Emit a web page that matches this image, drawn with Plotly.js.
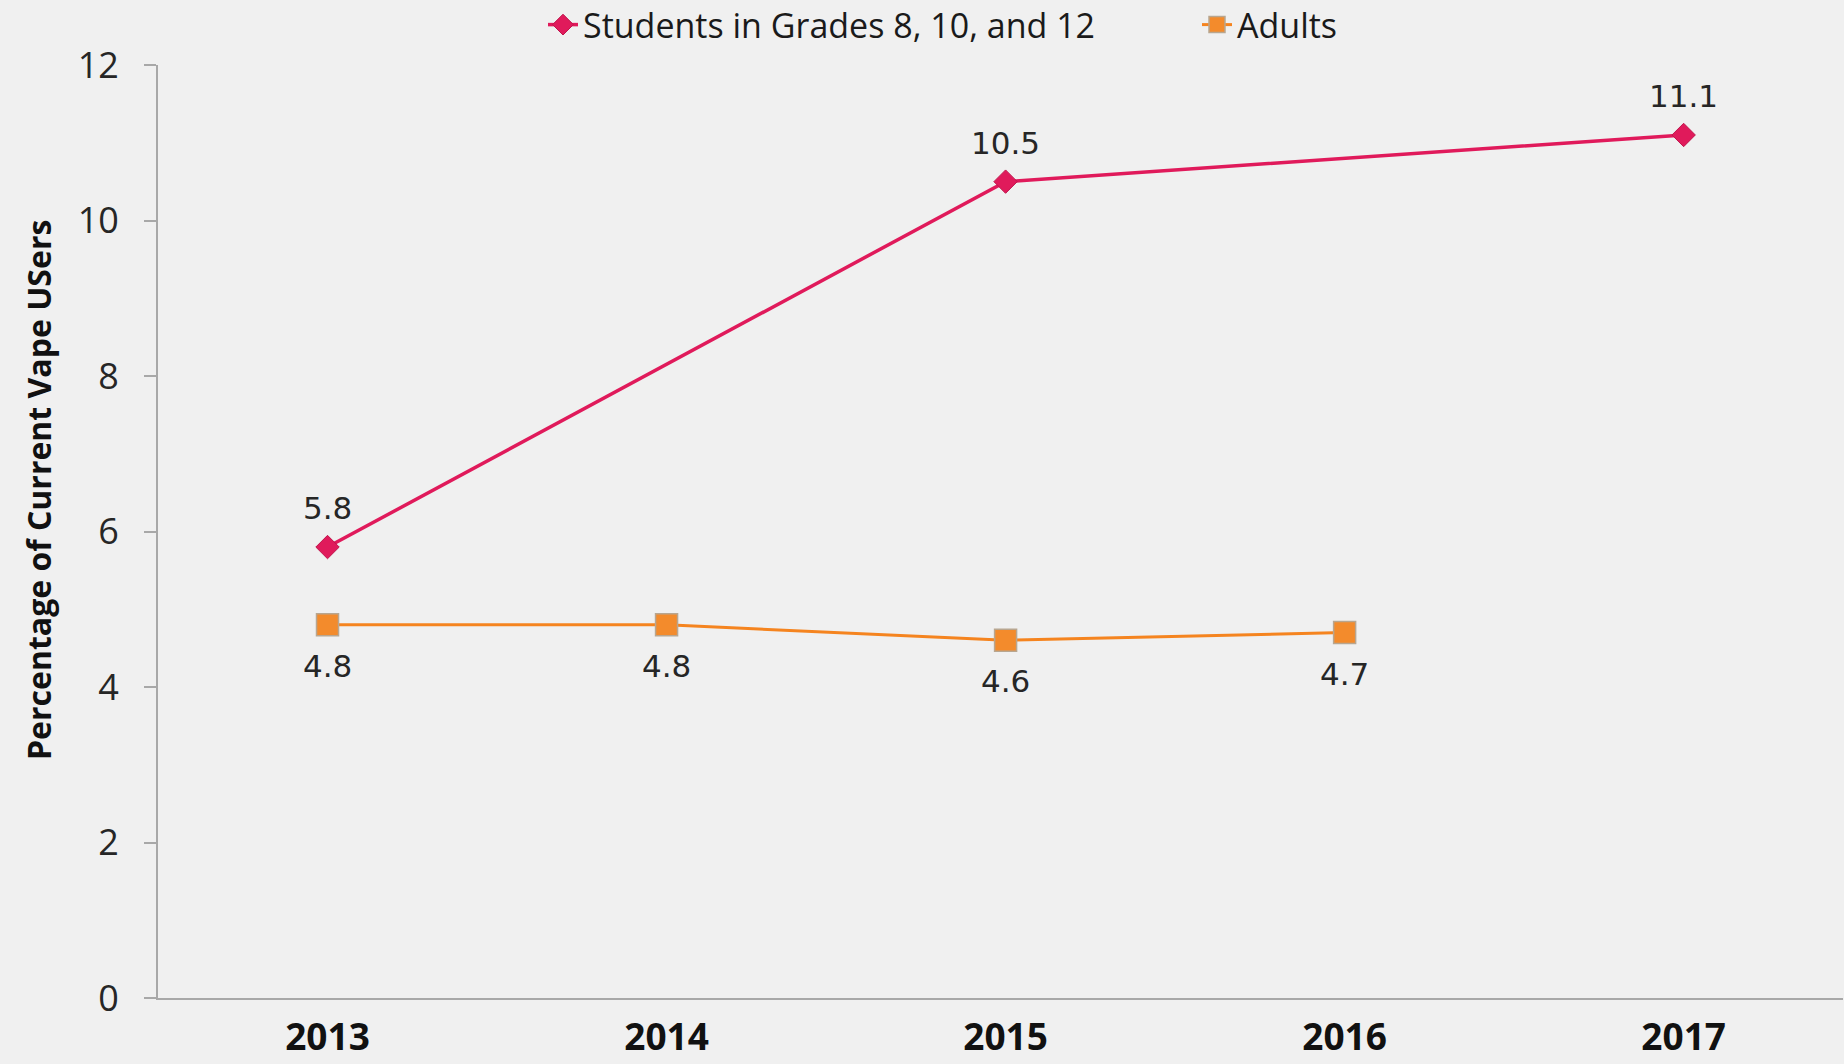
<!DOCTYPE html>
<html>
<head>
<meta charset="utf-8">
<script src="https://cdn.plot.ly/plotly-3.0.1.min.js"></script>
<style>
  html, body { margin: 0; padding: 0; background: #F0F0F0; }
  #chart { width: 1844px; height: 1064px; }
</style>
</head>
<body>
<div id="chart"></div>
<script>
const years = ['2013', '2014', '2015', '2016', '2017'];
const studentsName = 'Students in Grades 8, 10, and 12';
const studentsValues = [5.8, null, 10.5, null, 11.1];
const adultsName = 'Adults';
const adultsValues = [4.8, 4.8, 4.6, 4.7, null];
const yTicks = [0, 2, 4, 6, 8, 10, 12];
const yTitle = 'Percentage of Current Vape USers';

const labelFont = { family: 'DejaVu Sans, sans-serif', size: 31, color: '#262626' };
const mainFont = 'Open Sans, sans-serif';
const legendFont = { family: mainFont, size: 34, color: '#1a1a1a' };

const traces = [
  {
    x: years, y: studentsValues, name: studentsName, legend: 'legend',
    type: 'scatter', mode: 'lines+markers', connectgaps: true,
    line: { color: '#E01A5B', width: 3.5 },
    marker: { symbol: 'diamond', size: 18, color: '#E01A5B', line: { color: '#C0154C', width: 1 } },
    hoverinfo: 'x+y'
  },
  {
    x: years, y: adultsValues, name: adultsName, legend: 'legend2',
    type: 'scatter', mode: 'lines+markers', connectgaps: true,
    line: { color: '#F5841F', width: 3 },
    marker: { symbol: 'square', size: 22, color: '#F38B2C', line: { color: '#B8A690', width: 1.5 } },
    hoverinfo: 'x+y'
  }
];

function labelsFor(values, shift) {
  const out = [];
  values.forEach((v, i) => {
    if (v === null) return;
    out.push({
      x: i, y: v, xref: 'x', yref: 'y', text: v.toFixed(1),
      showarrow: false, yshift: shift, xanchor: 'center', yanchor: 'middle',
      font: labelFont
    });
  });
  return out;
}

const legendCommon = {
  orientation: 'h', xref: 'container', yref: 'container',
  xanchor: 'left', y: 1 - 25 / 1064, yanchor: 'middle',
  font: legendFont, bgcolor: 'rgba(0,0,0,0)'
};

const layout = {
  width: 1844, height: 1064,
  paper_bgcolor: '#F0F0F0', plot_bgcolor: '#F0F0F0',
  margin: { l: 158, r: 1, t: 65, b: 66 },
  showlegend: true,
  legend: Object.assign({}, legendCommon, { x: 543 / 1844 }),
  legend2: Object.assign({}, legendCommon, { x: 1197 / 1844 }),
  xaxis: {
    type: 'category', categoryorder: 'array', categoryarray: years,
    range: [-0.5, 4.47],
    showline: true, linecolor: '#A8A8A8', linewidth: 2,
    showgrid: false, zeroline: false, ticks: '',
    tickfont: { family: mainFont, size: 37, color: '#111111', weight: 'bold' },
    ticklabelstandoff: 6, fixedrange: true
  },
  yaxis: {
    range: [0, 12], tickvals: yTicks, ticktext: yTicks.map(String),
    showline: true, linecolor: '#A8A8A8', linewidth: 2,
    showgrid: false, zeroline: false,
    ticks: 'outside', ticklen: 12, tickwidth: 2, tickcolor: '#A8A8A8',
    tickfont: { family: mainFont, size: 36, color: '#262626' },
    ticklabelstandoff: 18, fixedrange: true
  },
  annotations: [
    {
      text: yTitle, xref: 'paper', yref: 'paper',
      x: (38 - 158) / 1685, y: (998 - 490) / 933,
      xanchor: 'center', yanchor: 'middle', textangle: -90, showarrow: false,
      font: { family: mainFont, size: 32, color: '#111111', weight: 'bold' }
    }
  ].concat(labelsFor(studentsValues, 39), labelsFor(adultsValues, -41))
};

Plotly.newPlot('chart', traces, layout, { displayModeBar: false, staticPlot: true });
</script>
</body>
</html>
